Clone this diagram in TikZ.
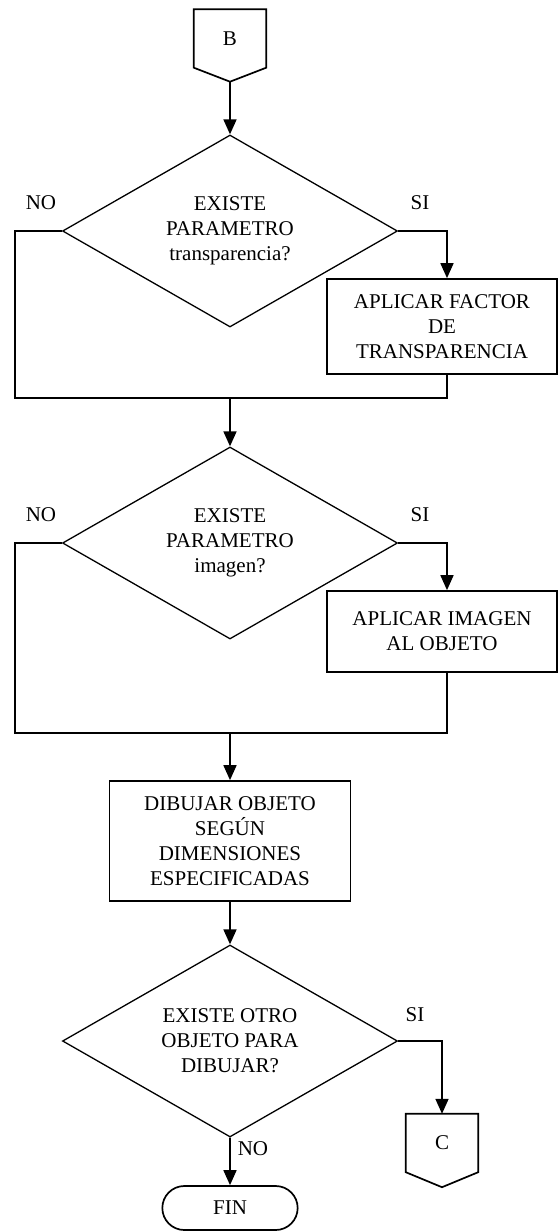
\documentclass[tikz,border=0pt]{standalone}
\usepackage{fontspec}
\setmainfont{Liberation Serif}
\usetikzlibrary{shapes.geometric, shapes.misc, arrows.meta}

\begin{document}
\begin{tikzpicture}[x=1pt,y=-1pt,>={Triangle[width=13pt,length=15pt]},
    font=\fontsize{21pt}{25pt}\selectfont,
    decision/.style={diamond, draw, line width=1.3pt, aspect=1.75, minimum width=335pt, minimum height=192pt, inner sep=0pt, align=center},
    process/.style={rectangle, draw, line width=1.7pt, align=center},
    connector/.style={rectangle, minimum width=72pt, minimum height=58pt},
    terminal/.style={rounded rectangle, draw, line width=1.7pt, minimum width=142pt, minimum height=44pt},
    outline/.style={line width=1.7pt, line join=miter},
    line/.style={line width=1.7pt},
    flow/.style={->, line width=1.7pt}]
    \useasboundingbox (0,0) rectangle (559,1232);

    \node[connector] (B) at (230,38.5) {B};
    \node[decision] (d1) at (230,231) {EXISTE\\PARAMETRO\\transparencia?};
    \node[process, minimum width=230pt, minimum height=95pt] (a1) at (442,326.5) {APLICAR FACTOR\\DE\\TRANSPARENCIA};
    \node[decision] (d2) at (230,543) {EXISTE\\PARAMETRO\\imagen?};
    \node[process, minimum width=230pt, minimum height=81pt] (a2) at (442,631.5) {APLICAR IMAGEN\\AL OBJETO};
    \node[process, minimum width=241pt, minimum height=120pt] (dib) at (230,841) {DIBUJAR OBJETO\\SEGÚN\\DIMENSIONES\\ESPECIFICADAS};
    \node[decision] (d3) at (230,1041) {EXISTE OTRO\\OBJETO PARA\\DIBUJAR?};
    \node[connector] (C) at (442,1143) {C};
    \node[terminal] (fin) at (230,1208) {FIN};

    \node (no1) at (41,203) {NO};
    \node (si1) at (420,203) {SI};
    \node (no2) at (41,515) {NO};
    \node (si2) at (420,515) {SI};
    \node (si3) at (415,1015) {SI};
    \node (no3) at (253,1149) {NO};

    \coordinate (l1) at (15,398);
    \coordinate (r1) at (447,398);
    \coordinate (m1) at (230,398);
    \coordinate (l2) at (15,733);
    \coordinate (r2) at (447,733);
    \coordinate (m2) at (230,733);

    \draw[outline] (B.north west) -- (B.north east) -- (B.south east) -- ([yshift=-14pt]B.south) -- (B.south west) -- cycle;
    \draw[outline] (C.north west) -- (C.north east) -- (C.south east) -- ([yshift=-15pt]C.south) -- (C.south west) -- cycle;

    \draw[flow] ([yshift=-14pt]B.south) -- (d1);
    \draw[flow] (d1.east) -| (a1.north -| r1);
    \draw[line] (d1.west) -| (l1) -- (r1) -- (a1.south -| r1);
    \draw[flow] (m1) -- (d2);
    \draw[flow] (d2.east) -| (a2.north -| r2);
    \draw[line] (d2.west) -| (l2) -- (r2) -- (a2.south -| r2);
    \draw[flow] (m2) -- (dib);
    \draw[flow] (dib) -- (d3);
    \draw[flow] (d3.east) -| (C.north);
    \draw[flow] (d3.south) -- (fin);
\end{tikzpicture}
\end{document}
